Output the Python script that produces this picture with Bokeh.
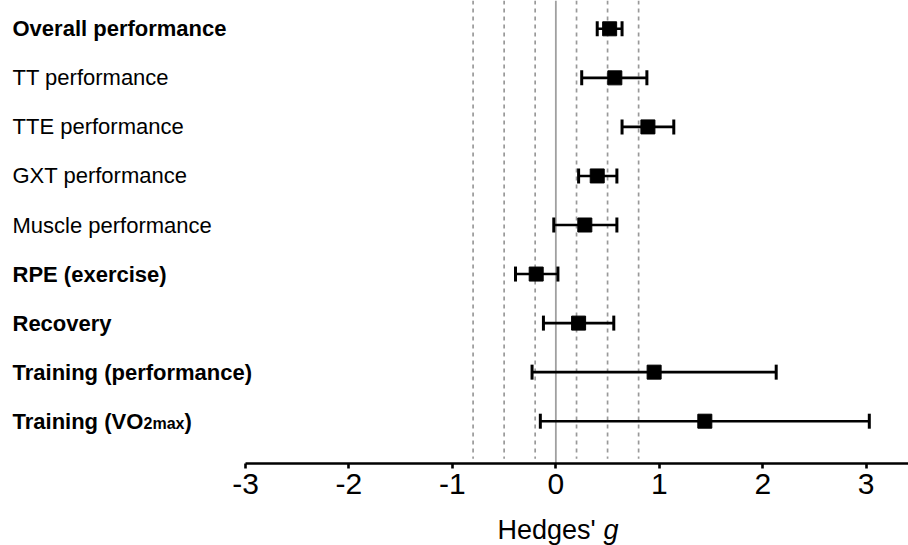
import math
from bokeh.plotting import figure
from bokeh.models import ColumnDataSource, Range1d, FixedTicker, Label
from bokeh.embed import file_html
from bokeh.resources import INLINE

# ---- data ----
categories = ["Overall performance", "TT performance", "TTE performance",
              "GXT performance", "Muscle performance", "RPE (exercise)",
              "Recovery", "Training (performance)", "Training (VO2max)"]
hedges_g = [0.52, 0.57, 0.89, 0.40, 0.28, -0.19, 0.22, 0.95, 1.44]
ci_low = [0.40, 0.25, 0.64, 0.22, -0.02, -0.39, -0.12, -0.23, -0.15]
ci_high = [0.64, 0.88, 1.14, 0.59, 0.59, 0.02, 0.56, 2.13, 3.03]
bold_rows = [True, False, False, False, False, True, True, True, True]
ref_lines = [-0.8, -0.5, -0.2, 0.2, 0.5, 0.8]
x_ticks = [-3, -2, -1, 0, 1, 2, 3]

FONT = "Liberation Sans"
n = len(categories)
ypos = [n - i for i in range(n)]

# layout constants (pixels -> data)
W, H = 908, 545
PX_PER_X = 103.45
X0_PX = 245          # pixel of x=-3
ROW_PX = 49.05
ROW0_PX = 28.3       # pixel of top row
AXIS_PX = 463.3

x_start = -3 - X0_PX / PX_PER_X
x_end = -3 + (W - X0_PX) / PX_PER_X
y_end = n + ROW0_PX / ROW_PX
y_start = 1 - (H - (ROW0_PX + (n - 1) * ROW_PX)) / ROW_PX
axis_y = 1 - (AXIS_PX - (ROW0_PX + (n - 1) * ROW_PX)) / ROW_PX
dash_bottom = axis_y + 5 / ROW_PX

src = ColumnDataSource(dict(cat=categories, g=hedges_g, lo=ci_low, hi=ci_high, y=ypos))

p = figure(width=W, height=H, output_backend="svg", toolbar_location=None,
           x_range=Range1d(x_start, x_end), y_range=Range1d(y_start, y_end),
           min_border=0)
p.outline_line_color = None
p.grid.visible = False
p.yaxis.visible = False
p.background_fill_color = "white"
p.border_fill_color = "white"

# reference lines
p.segment(x0=ref_lines, x1=ref_lines, y0=[y_end] * len(ref_lines),
          y1=[dash_bottom] * len(ref_lines),
          line_color="#999999", line_width=1.7, line_dash="4 4")
p.segment(x0=[0], x1=[0], y0=[y_end], y1=[axis_y], line_color="#a0a0a0", line_width=1.8)

# error bars
p.segment(x0="lo", x1="hi", y0="y", y1="y", source=src, line_color="black", line_width=2.6)
p.scatter(x="lo", y="y", source=src, marker="dash", angle=math.pi / 2, size=15,
          line_color="black", line_width=3)
p.scatter(x="hi", y="y", source=src, marker="dash", angle=math.pi / 2, size=15,
          line_color="black", line_width=3)
p.scatter(x="g", y="y", source=src, marker="square", size=14,
          fill_color="black", line_color="black")

# x axis (fixed inside the frame)
ax = p.xaxis[0]
ax.fixed_location = axis_y
ax.ticker = FixedTicker(ticks=x_ticks)
ax.major_label_overrides = {t: str(t) for t in x_ticks}
ax.bounds = (-3, x_end)
ax.axis_line_width = 2.6
ax.axis_line_color = "black"
ax.major_tick_line_width = 2.6
ax.major_tick_line_color = "black"
ax.major_tick_out = 5
ax.major_tick_in = 0
ax.minor_tick_line_color = None
ax.major_label_text_font = FONT
ax.major_label_text_font_size = "30px"
ax.major_label_text_color = "black"
ax.major_label_standoff = 5

# axis title
p.add_layout(Label(x=497, y=31, x_units="screen", y_units="screen", text="Hedges' ",
                   text_font=FONT, text_font_size="27px", text_baseline="top",
                   text_align="left", text_color="black"))
p.add_layout(Label(x=603, y=31, x_units="screen", y_units="screen", text="g",
                   text_font=FONT, text_font_size="27px", text_font_style="italic",
                   text_baseline="top", text_align="left", text_color="black"))

# row labels
LX = 12
for cat, yy, b in zip(categories, ypos, bold_rows):
    style = "bold" if b else "normal"
    if "VO2max" in cat:
        head, tail = cat.split("VO2max")
        p.add_layout(Label(x=LX, y=yy, x_units="screen", y_units="data", text=head + "VO",
                           text_font=FONT, text_font_size="22px", text_font_style=style,
                           text_baseline="middle", text_align="left", text_color="black"))
        p.add_layout(Label(x=LX + 131, y=yy, y_offset=-2, x_units="screen", y_units="data",
                           text="2max", text_font=FONT, text_font_size="16px",
                           text_font_style=style, text_baseline="middle",
                           text_align="left", text_color="black"))
        p.add_layout(Label(x=LX + 172, y=yy, x_units="screen", y_units="data", text=tail,
                           text_font=FONT, text_font_size="22px", text_font_style=style,
                           text_baseline="middle", text_align="left", text_color="black"))
    else:
        p.add_layout(Label(x=LX, y=yy, x_units="screen", y_units="data", text=cat,
                           text_font=FONT, text_font_size="22px", text_font_style=style,
                           text_baseline="middle", text_align="left", text_color="black"))

open("out.html", "w").write(file_html(p, INLINE))
